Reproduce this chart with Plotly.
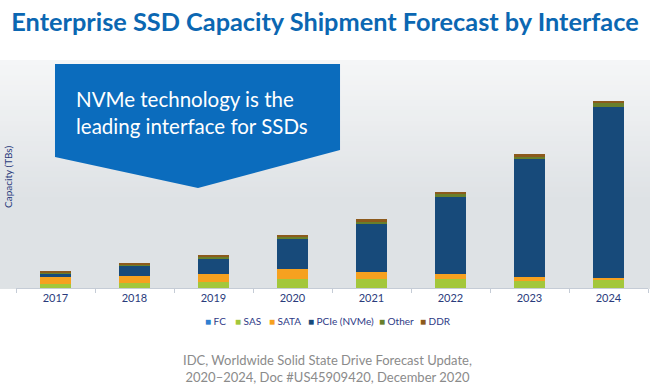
import plotly.graph_objects as go

# ---- data (arbitrary capacity units) ----
years = ["2017", "2018", "2019", "2020", "2021", "2022", "2023", "2024"]
series_names = ["FC", "SAS", "SATA", "PCIe (NVMe)", "Other", "DDR"]
fc = [0.2, 0.2, 0.2, 0.1, 0.1, 0.1, 0.1, 0.1]
sas = [4, 5, 6, 9, 9, 9, 7, 8]
sata = [7, 7, 8, 10, 7, 5, 3.5, 2]
pcie = [3, 10, 15, 30, 48, 77, 118, 171]
other = [1.5, 1, 1.5, 1.5, 2, 2.5, 2.5, 4]
ddr = [0.5, 2, 2.5, 2.5, 3, 2.5, 2.5, 2]
series_values = [fc, sas, sata, pcie, other, ddr]
series_colors = ["#2f7fd1", "#a3c73b", "#f6a11f", "#174a7a", "#687f2c", "#8c5a1c"]

title_text = "Enterprise SSD Capacity Shipment Forecast by Interface"
callout_text = "NVMe technology is the<br>leading interface for SSDs"
source_text = "IDC, Worldwide Solid State Drive Forecast Update,<br>2020–2024, Doc #US45909420, December 2020"
y_title = "Capacity (TBs)"

W, H = 650, 386
L, R, T, B = 16, 2, 62, 98
PW, PH = W - L - R, H - T - B

def px(x):
    return (x - L) / PW

def py(y):
    return (H - B - y) / PH

fig = go.Figure()
for name, vals, col in zip(series_names, series_values, series_colors):
    fig.add_trace(go.Bar(x=years, y=vals, name=name, marker=dict(color=col, line=dict(width=0)),
                         showlegend=False))

shapes = []
# smooth background gradient built from many thin overlapping bands
top_rgb, low_rgb = (245, 246, 247), (222, 226, 229)
nb = 45
for i in range(nb):
    t = min(1.0, i / (nb * 0.6))
    c = tuple(round(a + (b - a) * t) for a, b in zip(top_rgb, low_rgb))
    y0 = 60 + i * (288 - 60) / nb
    shapes.append(dict(type="rect", xref="paper", yref="paper", x0=px(0), x1=px(W), y0=py(289), y1=py(y0),
                       fillcolor="rgb(%d,%d,%d)" % c, line=dict(width=0), layer="below"))
# callout
pts = [(55, 64), (340, 64), (340, 150), (198, 188), (55, 157)]
path = "M " + " L ".join(f"{px(a):.4f},{py(b):.4f}" for a, b in pts) + " Z"
shapes.append(dict(type="path", xref="paper", yref="paper", path=path, fillcolor="#0b6cbd",
                   line=dict(width=0), layer="below"))

annotations = [
    dict(text=callout_text, x=px(74), y=py(112), xref="paper", yref="paper", xanchor="left", yanchor="middle",
         align="left", showarrow=False, font=dict(family="Lato", size=20.5, color="white")),
    dict(text=source_text, x=px(327), y=py(368), xref="paper", yref="paper", xanchor="center", yanchor="middle",
         align="center", showarrow=False, font=dict(family="Lato", size=13, color="#8b8b8b")),
    dict(text=y_title, x=px(8), y=py(177), xref="paper", yref="paper", xanchor="center", yanchor="middle",
         textangle=-90, showarrow=False, font=dict(family="Lato", size=10, color="#2a3b7c")),
]
# manual compact legend
leg_x = [203, 233, 267, 306, 377, 418]
for name, col, lx in zip(series_names, series_colors, leg_x):
    annotations.append(dict(text=f"<span style='color:{col}'>■</span> {name}", x=px(lx), y=py(321),
                            xref="paper", yref="paper", xanchor="left", yanchor="middle", showarrow=False,
                            font=dict(family="Lato", size=10, color="#2e3a86")))

fig.update_layout(
    width=W, height=H,
    margin=dict(l=L, r=R, t=T, b=B),
    paper_bgcolor="white", plot_bgcolor="rgba(0,0,0,0)",
    barmode="stack", bargap=0.6,
    title=dict(text=title_text, x=0.5, xanchor="center", y=1 - 22 / H, yanchor="middle",
               font=dict(family="Lato", size=25.3, color="#0b67b2", weight="bold")),
    xaxis=dict(showgrid=False, showline=True, linecolor="#c5ccd6", linewidth=1, ticks="outside",
               tickson="boundaries", ticklen=4, tickcolor="#c5ccd6",
               tickfont=dict(family="Lato", size=11, color="#2a3b7c")),
    yaxis=dict(range=[0, PH], showgrid=False, showticklabels=False, zeroline=False, showline=False),
    shapes=shapes, annotations=annotations, showlegend=False,
)

fig.write_html("out.html", config={"displayModeBar": False},
               post_script="document.body.style.margin='0px';")
